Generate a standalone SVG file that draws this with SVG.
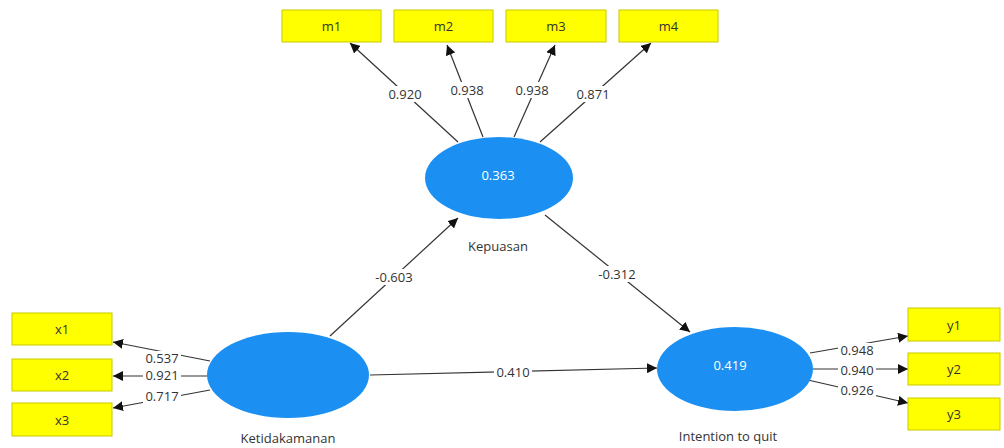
<svg xmlns="http://www.w3.org/2000/svg" width="1004" height="448" viewBox="0 0 1004 448">
<defs>
<marker id="ah" viewBox="0 0 10 10" refX="10" refY="5" markerWidth="10" markerHeight="10" markerUnits="userSpaceOnUse" orient="auto">
<path d="M0,0 L10,5 L0,10 Z" fill="#111"/>
</marker>
<style>
.ind rect{fill:#ffff00;stroke:#c9c900;stroke-width:1}
.ind text{font-family:"Open Sans","Liberation Sans",sans-serif;font-size:13px;fill:#333;text-anchor:middle;dominant-baseline:central}
.lat ellipse{fill:#1b90f2}
.val{font-family:"Open Sans","Liberation Sans",sans-serif;font-size:13px;fill:#fff;text-anchor:middle;dominant-baseline:central}
.name{font-family:"Open Sans","Liberation Sans",sans-serif;font-size:13px;fill:#333;text-anchor:middle;dominant-baseline:central}
.conn line{stroke:#333;stroke-width:1.2;marker-end:url(#ah)}
.lbl rect{fill:#fff}
.lbl text{font-family:"Open Sans","Liberation Sans",sans-serif;font-size:13px;fill:#333;text-anchor:middle;dominant-baseline:central}
</style>
</defs>
<rect width="1004" height="448" fill="#fff"/>

<g class="conn">
<line x1="458" y1="142" x2="350" y2="43"/>
<line x1="483" y1="137" x2="447" y2="45"/>
<line x1="514" y1="137" x2="555" y2="45"/>
<line x1="540" y1="142" x2="651" y2="43"/>
<line x1="210" y1="361" x2="113" y2="342"/>
<line x1="207" y1="376" x2="113" y2="376"/>
<line x1="210" y1="390" x2="113" y2="408"/>
<line x1="330" y1="336" x2="458" y2="218"/>
<line x1="545" y1="215" x2="690" y2="332"/>
<line x1="370" y1="375" x2="657" y2="368"/>
<line x1="810" y1="353" x2="908" y2="336"/>
<line x1="813" y1="369" x2="908" y2="369"/>
<line x1="808" y1="380" x2="908" y2="403"/>
</g>

<g class="lbl">
<rect x="387" y="86" width="36" height="16"/><text x="405" y="94">0.920</text>
<rect x="449" y="82" width="36" height="16"/><text x="467" y="90">0.938</text>
<rect x="514" y="82" width="36" height="16"/><text x="532" y="90">0.938</text>
<rect x="575" y="86" width="36" height="16"/><text x="593" y="94">0.871</text>
<rect x="143" y="351" width="38" height="14"/><text x="162" y="358">0.537</text>
<rect x="143" y="368" width="38" height="14"/><text x="162" y="375">0.921</text>
<rect x="143" y="389" width="38" height="14"/><text x="162" y="396">0.717</text>
<rect x="373" y="269" width="42" height="16"/><text x="394" y="277">-0.603</text>
<rect x="596" y="266" width="42" height="16"/><text x="617" y="274">-0.312</text>
<rect x="494" y="365" width="38" height="14"/><text x="513" y="372">0.410</text>
<rect x="838" y="343" width="38" height="14"/><text x="857" y="350">0.948</text>
<rect x="838" y="363" width="38" height="14"/><text x="857" y="370">0.940</text>
<rect x="838" y="383" width="38" height="14"/><text x="857" y="390">0.926</text>
</g>

<g id="m1" class="ind"><rect x="282" y="10" width="99" height="32"/><text x="331.5" y="26">m1</text></g>
<g id="m2" class="ind"><rect x="394" y="10" width="99" height="32"/><text x="443.5" y="26">m2</text></g>
<g id="m3" class="ind"><rect x="506" y="10" width="100" height="32"/><text x="556" y="26">m3</text></g>
<g id="m4" class="ind"><rect x="619" y="10" width="99" height="32"/><text x="668.5" y="26">m4</text></g>

<g id="x1" class="ind"><rect x="12" y="313" width="100" height="32"/><text x="62" y="329">x1</text></g>
<g id="x2" class="ind"><rect x="12" y="359" width="100" height="32"/><text x="62" y="375">x2</text></g>
<g id="x3" class="ind"><rect x="12" y="403" width="100" height="33"/><text x="62" y="419.5">x3</text></g>

<g id="y1" class="ind"><rect x="908" y="308" width="92" height="33"/><text x="954" y="324.5">y1</text></g>
<g id="y2" class="ind"><rect x="908" y="353" width="92" height="32"/><text x="954" y="369">y2</text></g>
<g id="y3" class="ind"><rect x="908" y="398" width="92" height="32"/><text x="954" y="414">y3</text></g>

<g id="kepuasan" class="lat">
<ellipse cx="499" cy="178" rx="74" ry="41"/>
<text class="val" x="498" y="175">0.363</text>
<text class="name" x="498" y="246">Kepuasan</text>
</g>
<g id="ketidakamanan" class="lat">
<ellipse cx="288" cy="375" rx="81" ry="43"/>
<text class="name" x="288" y="438">Ketidakamanan</text>
</g>
<g id="intention" class="lat">
<ellipse cx="735" cy="369" rx="78" ry="42"/>
<text class="val" x="730" y="365">0.419</text>
<text class="name" x="728" y="436">Intention to quit</text>
</g>
</svg>
